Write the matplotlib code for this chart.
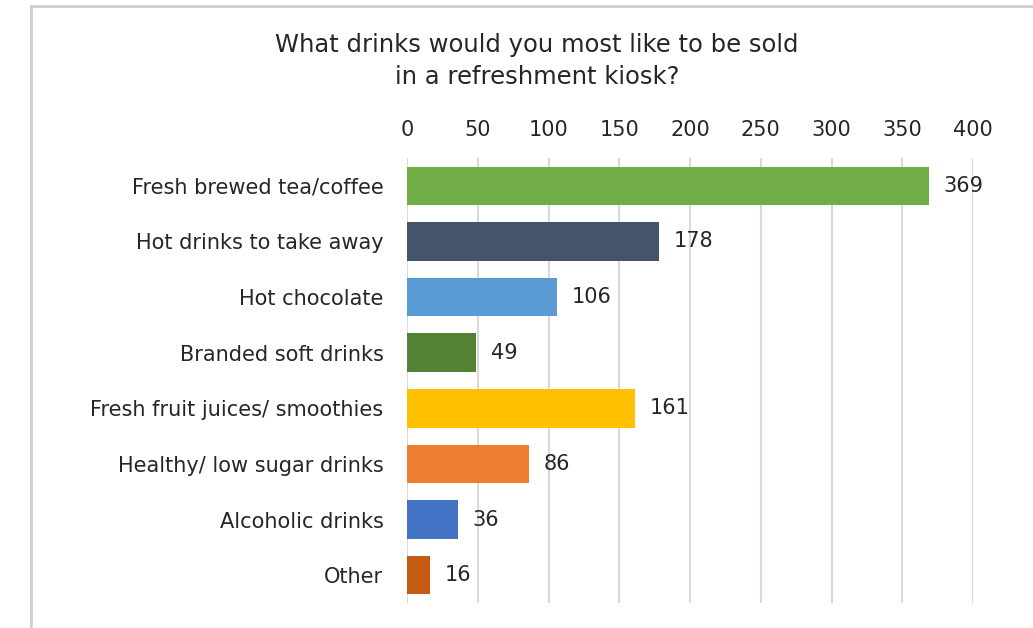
import matplotlib
matplotlib.use("Agg")
import matplotlib.pyplot as plt
from matplotlib.lines import Line2D

categories = ["Fresh brewed tea/coffee", "Hot drinks to take away", "Hot chocolate",
              "Branded soft drinks", "Fresh fruit juices/ smoothies",
              "Healthy/ low sugar drinks", "Alcoholic drinks", "Other"]
values = [369, 178, 106, 49, 161, 86, 36, 16]
colors = ["#70AD47", "#44546A", "#5B9BD5", "#548235", "#FFC000", "#ED7D31", "#4472C4", "#C55A11"]
xticks = [0, 50, 100, 150, 200, 250, 300, 350, 400]
title = "What drinks would you most like to be sold\nin a refreshment kiosk?"

plt.rcParams['font.family'] = ['DejaVu Sans']
fig = plt.figure(figsize=(10.33, 6.28), dpi=100)
ax = fig.add_axes([407/1033, 1-603/628, 566/1033, 445/628])

ypos = list(range(len(categories)))
ax.barh(ypos, values, height=0.69, color=colors, zorder=2)
ax.set_ylim(len(categories)-0.5, -0.5)
ax.set_xlim(0, 400)
ax.set_xticks(xticks)
ax.xaxis.tick_top()
ax.tick_params(axis='x', length=0, pad=13, labelsize=15, colors='#262626')
ax.tick_params(axis='y', length=0, pad=17, labelsize=15, colors='#262626')
ax.set_yticks(ypos)
ax.set_yticklabels(categories)
ax.grid(axis='x', color='#d9d9d9', linewidth=1.5, zorder=0)
for s in ax.spines.values():
    s.set_visible(False)

for y, v in zip(ypos, values):
    ax.annotate(str(v), (v, y), xytext=(10.5, 0), textcoords='offset points',
                va='center', ha='left', fontsize=15, color='#262626')

fig.text(537/1033, 1-61/628, title, ha='center', va='center', fontsize=17.5,
         color='#262626', linespacing=1.4)

fig.add_artist(Line2D([31/1033, 31/1033], [0, 1-6/628], transform=fig.transFigure,
                      color='#d0cece', linewidth=2))
fig.add_artist(Line2D([31/1033, 1], [1-6/628, 1-6/628], transform=fig.transFigure,
                      color='#d0cece', linewidth=2))

fig.savefig("out.png", dpi=100)
